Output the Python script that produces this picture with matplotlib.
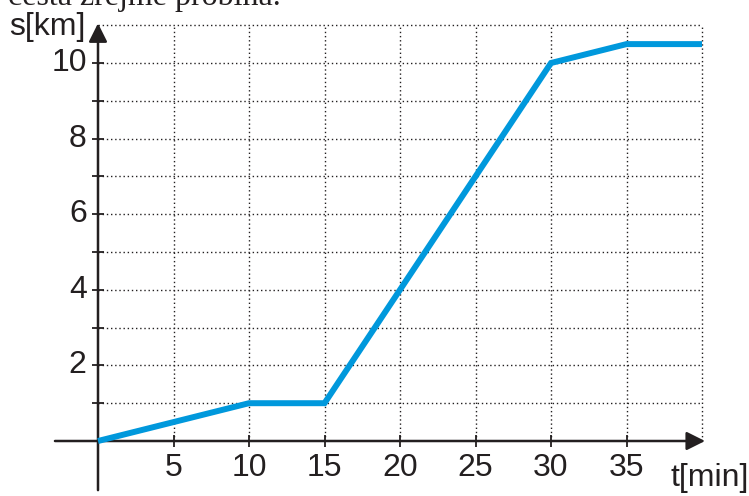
import matplotlib.pyplot as plt

# data
t_min = [0, 10, 15, 20, 25, 30, 35, 40]
s_km = [0, 1, 1, 4, 7, 10, 10.5, 10.5]

x_ticks = [5, 10, 15, 20, 25, 30, 35]
y_labels = [2, 4, 6, 8, 10]
y_grid = list(range(1, 12))
x_grid = [5, 10, 15, 20, 25, 30, 35, 40]

ink = '#231f20'
blue = '#0098dc'

fig = plt.figure(figsize=(7.49, 4.96), dpi=100)
ax = fig.add_axes([0, 0, 1, 1])
ax.set_xlim(-98 / 15.1, (749 - 98) / 15.1)
ax.set_ylim(-55 / 37.8, 441 / 37.8)
ax.axis('off')

# dotted grid
ax.hlines(y_grid, 0, 40, colors=ink, linestyles=(0, (1, 2)), linewidth=1)
ax.vlines(x_grid, 0, 11, colors=ink, linestyles=(0, (1, 2)), linewidth=1)

# axes with arrows
ax.annotate('', xy=(40.2, 0), xytext=(-2.85, 0),
            arrowprops=dict(arrowstyle='-|>', mutation_scale=28, lw=1.8,
                            color=ink, shrinkA=0, shrinkB=0))
ax.annotate('', xy=(0, 11.05), xytext=(0, -1.3),
            arrowprops=dict(arrowstyle='-|>', mutation_scale=28, lw=1.8,
                            color=ink, shrinkA=0, shrinkB=0))

# tick marks
ax.vlines(x_ticks, -0.17, 0.17, colors=ink, linewidth=1.3)
ax.hlines(list(range(1, 11)), -0.42, 0.42, colors=ink, linewidth=1.3)

# curve
ax.plot(t_min, s_km, color=blue, linewidth=4.3, solid_joinstyle='miter',
        solid_capstyle='butt', zorder=5)

font = dict(family='Liberation Sans', fontsize=23, color=ink)
for v in x_ticks:
    ax.text(v, -0.33, str(v), ha='center', va='top', **font)
for v in y_labels:
    ax.text(-0.75, v, str(v), ha='right', va='center', **font)

ax.text(-5.85, 10.95, 's[km]', ha='left', va='center', **font)
ax.text(37.9, -0.58, 't[min]', ha='left', va='top', **font)

fig.text(8 / 749, 1 - 5 / 496, 'cesta zrejme probíha.', ha='left',
         va='baseline', family='Liberation Serif', fontsize=23, color=ink)

fig.savefig('out.png', dpi=100)
